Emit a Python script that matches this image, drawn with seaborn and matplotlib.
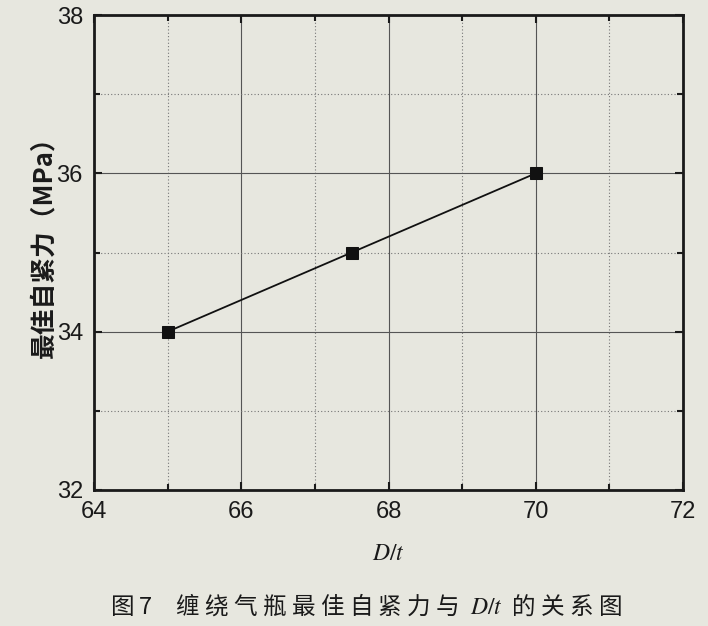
import numpy as np
import pandas as pd
import matplotlib
matplotlib.use("Agg")
import matplotlib.pyplot as plt
import seaborn as sns
from matplotlib.ticker import MultipleLocator

# data
dt_ratio = [65.0, 67.5, 70.0]
best_preload = [34.0, 35.0, 36.0]

x_ticks = [64, 66, 68, 70, 72]
y_ticks = [32, 34, 36, 38]

sns.set_style("ticks")
plt.rcParams['font.family'] = ['Liberation Sans', 'Noto Sans CJK SC', 'DejaVu Sans']
plt.rcParams['mathtext.fontset'] = 'stix'

bg = '#e7e7df'
df = pd.DataFrame({'D/t': dt_ratio, 'preload': best_preload})

fig = plt.figure(figsize=(7.08, 6.26), dpi=100, facecolor=bg)
ax = fig.add_axes([94 / 708, 1 - 490 / 626, 589 / 708, 475 / 626])
ax.set_facecolor(bg)

sns.lineplot(data=df, x='D/t', y='preload', ax=ax, color='#111111', linewidth=1.3,
             marker='s', markersize=9, markeredgecolor='#111111', zorder=5)

ax.set_xlim(64, 72)
ax.set_ylim(32, 38)
ax.set_xticks(x_ticks)
ax.set_yticks(y_ticks)
ax.xaxis.set_minor_locator(MultipleLocator(1))
ax.yaxis.set_minor_locator(MultipleLocator(1))

# major grid solid, minor grid dotted
ax.grid(which='major', color='#555555', linewidth=0.8, linestyle='-')
ax.grid(which='minor', color='#777777', linewidth=0.8, linestyle=(0, (1, 2)))
ax.set_axisbelow(True)

for s in ax.spines.values():
    s.set_linewidth(2.0)
    s.set_color('#1a1a1a')

ax.tick_params(which='both', direction='in', top=True, right=True,
               color='#1a1a1a', width=1.5)
ax.tick_params(which='major', length=6, labelsize=17, pad=8, labelcolor='#1a1a1a')
ax.tick_params(which='minor', length=4)

ax.set_xlabel(r'$D/t$', fontsize=17, labelpad=14, color='#1a1a1a')
ax.set_ylabel('最佳自紧力（MPa）', fontsize=18.5, fontweight='bold',
              family=['Noto Sans CJK SC', 'DejaVu Sans'], color='#1a1a1a')
ax.yaxis.set_label_coords(-0.062, 0.525)

fig.text(366 / 708, 1 - 605 / 626,
         r'图 7　缠 绕 气 瓶 最 佳 自 紧 力 与 $\ D/t\ $ 的 关 系 图',
         ha='center', va='center', fontsize=17, color='#1a1a1a',
         family=['Noto Sans CJK SC', 'DejaVu Sans'])

fig.savefig('out.png', dpi=100, facecolor=bg)
